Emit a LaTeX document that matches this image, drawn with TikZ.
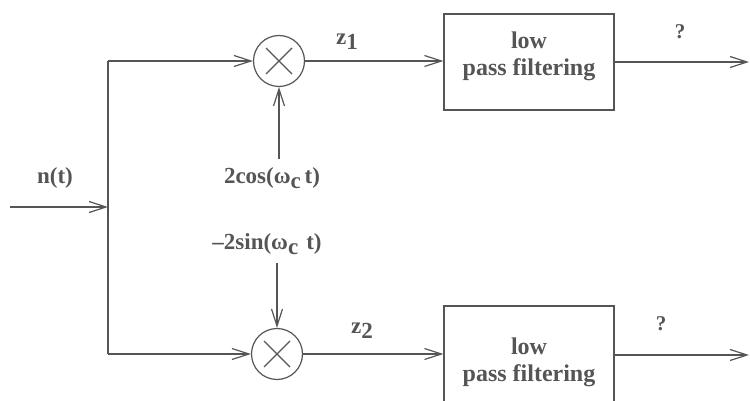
\documentclass[tikz,border=0pt]{standalone}
\usepackage{fontspec}
\setmainfont{Liberation Serif}
\usetikzlibrary{arrows.meta}
\definecolor{ink}{RGB}{85,85,85}
\begin{document}
\begin{tikzpicture}[x=1pt,y=-1pt,
  every node/.style={text=ink,font=\fontsize{23}{27}\selectfont\bfseries},
  wire/.style={draw=ink,line width=1.2pt},
  arr/.style={wire,-{Straight Barb[length=17pt,width=11pt,line width=1.2pt]}},
  mult/.style={circle,draw=ink,line width=1.2pt,minimum size=51pt,inner sep=0pt},
  filterbox/.style={rectangle,draw=ink,line width=1.2pt,minimum width=170pt,minimum height=96pt,inner sep=0pt},
  lbl/.style={inner sep=0pt,align=center},
  boxtext/.style={lbl,font=\fontsize{24}{27}\selectfont\bfseries}]
\useasboundingbox (0,0) rectangle (750,401);
\clip (0,0) rectangle (750,401);
% multipliers
\node[mult] (m1) at (279,61) {};
\node[mult] (m2) at (277,354) {};
\foreach \m in {m1,m2}{
  \draw[wire] ([shift={(-13,-13)}]\m.center) -- ([shift={(13,13)}]\m.center);
  \draw[wire] ([shift={(-13,13)}]\m.center) -- ([shift={(13,-13)}]\m.center);
}
% filter boxes
\node[filterbox] (f1) at (529,62) {};
\node[filterbox,minimum height=98pt] (f2) at (529,355) {};
\node[boxtext] (t1) at (529,56) {low\\pass filtering};
\node[boxtext] (t2) at (529,362) {low\\pass filtering};
% input and split
\coordinate (in) at (10,207);
\coordinate (split) at (108,207);
\coordinate (tl) at (108,61);
\coordinate (bl) at (108,354);
\coordinate (o1) at (749,62);
\coordinate (o2) at (749,355);
\draw[arr] (in) -- (split);
\draw[wire] (tl) -- (bl);
\draw[arr] (tl) -- (m1.west);
\draw[arr] (bl) -- (m2.west);
\draw[arr] (m1.east) -- (m1.east -| f1.west);
\draw[arr] (m2.east) -- (m2.east -| f2.west);
\draw[arr] (f1.east |- o1) -- (o1);
\draw[arr] (f2.east |- o2) -- (o2);
% labels
\node[lbl] (n) at (55,178) {n(t)};
\node[lbl] (cos) at (272,178) {2cos(ω\raisebox{-0.45ex}{c}\,t)};
\node[lbl] (sin) at (267,244) {–2sin(ω\raisebox{-0.45ex}{c}\hspace{0.35em}t)};
\draw[arr] (cos.north -| m1.south) ++(0,-8) -- (m1.south);
\draw[arr] (sin.south -| m2.north) ++(0,8) -- (m2.north);
\node[lbl] (z1) at (347,42) {z\raisebox{-0.5ex}{1}};
\node[lbl] (z2) at (362,331) {z\raisebox{-0.5ex}{2}};
\node[lbl,font=\fontsize{21}{24}\selectfont\bfseries] (q1) at (680,32) {?};
\node[lbl,font=\fontsize{21}{24}\selectfont\bfseries] (q2) at (661,324) {?};
\end{tikzpicture}
\end{document}
